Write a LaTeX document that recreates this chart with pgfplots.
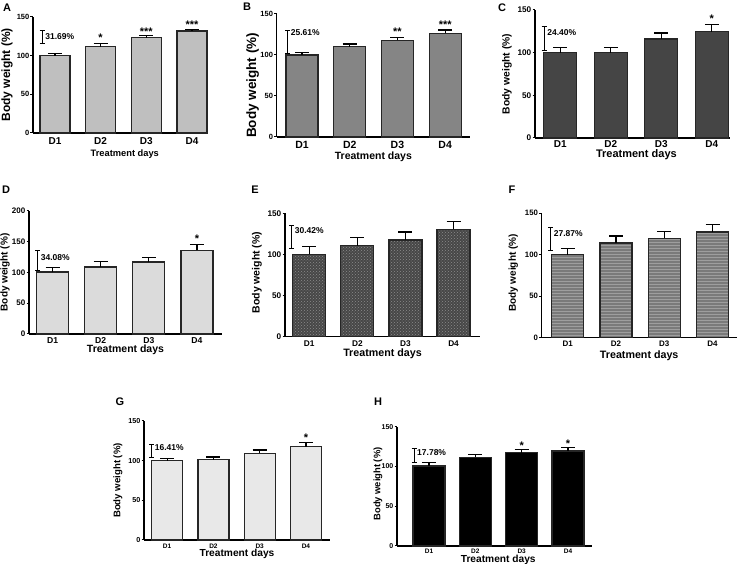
\documentclass[border=0pt]{standalone}
\usepackage{fontspec}
\setmainfont{Liberation Sans}
\usepackage{pgfplots}
\pgfplotsset{compat=1.18}
\usetikzlibrary{patterns}
\newcommand{\fs}[1]{\bfseries\fontsize{#1}{#1}\selectfont}
\newcommand{\brk}[5]{%
  \draw[line width=1pt] (axis cs:#1,#2) -- (axis cs:#1,#3);
  \draw[line width=1pt] ([xshift=-2.5pt]axis cs:#1,#2) -- ([xshift=2.5pt]axis cs:#1,#2);
  \draw[line width=1pt] ([xshift=-2.5pt]axis cs:#1,#3) -- ([xshift=2.5pt]axis cs:#1,#3);
  \node[anchor=west, font=\fs{8.5}, inner sep=0pt, xshift=3pt] at (axis cs:#1,#5) {#4};}
\newcommand{\stars}[3]{\node[font=\fs{11}, anchor=base, inner sep=0pt, yshift=-6pt] at (axis cs:#1,#2) {#3};}
\pgfplotsset{
 panel/.style={
  scale only axis, ybar, bar width=32pt,
  axis x line*=bottom, axis y line*=left,
  ymin=0, ymax=150, ytick={0,50,100,150},
  xtick={1,2,3,4}, xticklabels={D1,D2,D3,D4},
  xtick style={draw=none},
  tick align=outside, major tick length=2.5pt,
  ytick style={line width=1pt,black},
  axis line style={line width=1.3pt, black},
  /pgf/number format/assume math mode=true,
  yticklabel style={font=\fs{7.5}, inner sep=1pt},
  xticklabel style={inner sep=1.5pt},
  clip=false,
  ylabel={Body weight (\%)}, xlabel={Treatment days},
 },
 bars/.style={draw=black!85, line width=1.2pt,
  error bars/.cd, y dir=plus, y explicit, error mark=|,
  error bar style={line width=1.2pt, black},
  error mark options={line width=1.2pt, black, mark size=7pt}},
}
\begin{document}
\begin{tikzpicture}
\path[use as bounding box] (0,0) rectangle (738pt,564pt);
% panel labels
\node[font=\fs{11}] at (7pt,556pt) {A};
\node[font=\fs{11}] at (247pt,557pt) {B};
\node[font=\fs{11}] at (502pt,556.7pt) {C};
\node[font=\fs{11}] at (6pt,374pt) {D};
\node[font=\fs{11}] at (255pt,374pt) {E};
\node[font=\fs{11}] at (512pt,374pt) {F};
\node[font=\fs{11}] at (120pt,162.3pt) {G};
\node[font=\fs{11}] at (378pt,162.3pt) {H};

% A
\begin{axis}[panel, at={(33pt,431pt)}, anchor=south west, width=170pt, height=116pt,
  xmin=0.52, xmax=4.24, bar width=30pt,
  every axis y label/.style={at={(axis description cs:-0.153,0.5)}, rotate=90, anchor=center, font=\fs{12}},
  every axis x label/.style={at={(axis description cs:0.54,-0.18)}, anchor=center, font=\fs{9.3}},
  xticklabel style={font=\fs{10}}]
\addplot[fill=black!25, bars] coordinates {(1,100) +- (0,3) (2,111.4) +- (0,4) (3,123.4) +- (0,3) (4,132) +- (0,2)};
\brk{0.72}{116}{132}{31.69\%}{124.5}
\stars{2}{125.6}{*}\stars{3}{133.7}{***}\stars{4}{142.3}{***}
\end{axis}

% B
\begin{axis}[panel, at={(276.7pt,427pt)}, anchor=south west, width=193.3pt, height=123pt,
  xmin=0.47, xmax=4.52, bar width=32pt,
  every axis y label/.style={at={(axis description cs:-0.124,0.42)}, rotate=90, anchor=center, font=\fs{13.5}},
  every axis x label/.style={at={(axis description cs:0.5,-0.162)}, anchor=center, font=\fs{10.5}},
  xticklabel style={font=\fs{10.5}}]
\addplot[fill=black!48, bars] coordinates {(1,100) +- (0,2.7) (2,110) +- (0,3.3) (3,118) +- (0,3.5) (4,126.4) +- (0,4)};
\brk{0.70}{102}{130}{25.61\%}{126.8}
\stars{3}{131.3}{**}\stars{4}{139.4}{***}
\end{axis}

% C
\begin{axis}[panel, at={(535pt,426pt)}, anchor=south west, width=195pt, height=128pt,
  xmin=0.5, xmax=4.36, bar width=33pt,
  every axis y label/.style={at={(axis description cs:-0.144,0.5)}, rotate=90, anchor=center, font=\fs{10.3}},
  every axis x label/.style={at={(axis description cs:0.52,-0.128)}, anchor=center, font=\fs{11}},
  xticklabel style={font=\fs{10}, inner sep=0pt},
  yticklabel style={font=\fs{8.2}}]
\addplot[fill=black!73, bars] coordinates {(1,100) +- (0,6) (2,100) +- (0,6) (3,116) +- (0,7) (4,124.7) +- (0,8)};
\brk{0.68}{103}{130.5}{24.40\%}{124}
\stars{4}{142.2}{*}
\end{axis}

% D
\begin{axis}[panel, at={(29pt,230pt)}, anchor=south west, width=193pt, height=123.3pt,
  xmin=0.51, xmax=4.52, bar width=32pt, ymax=200, ytick={0,50,100,150,200},
  every axis y label/.style={at={(axis description cs:-0.124,0.5)}, rotate=90, anchor=center, font=\fs{10}},
  every axis x label/.style={at={(axis description cs:0.5,-0.132)}, anchor=center, font=\fs{10.5}},
  xticklabel style={font=\fs{8.6}, inner sep=1pt},
  yticklabel style={font=\fs{8}}]
\addplot[fill=black!14, bars] coordinates {(1,100.5) +- (0,8) (2,108.6) +- (0,9) (3,116.7) +- (0,8) (4,135.5) +- (0,9.5)};
\brk{0.69}{103.4}{134.7}{34.08\%}{124.5}
\stars{4}{158}{*}
\end{axis}

% E
\begin{axis}[panel, at={(285pt,227.3pt)}, anchor=south west, width=195pt, height=123.4pt,
  xmin=0.495, xmax=4.55, bar width=33pt,
  every axis y label/.style={at={(axis description cs:-0.144,0.52)}, rotate=90, anchor=center, font=\fs{10.5}},
  every axis x label/.style={at={(axis description cs:0.5,-0.14)}, anchor=center, font=\fs{10.7}},
  xticklabel style={font=\fs{8.3}, inner sep=1pt},
  yticklabel style={font=\fs{8.2}}]
\addplot[fill=black!72, postaction={pattern=crosshatch dots, pattern color=black!45}, bars] coordinates {(1,100) +- (0,9.5) (2,110.7) +- (0,10) (3,117.6) +- (0,9.7) (4,130.5) +- (0,9.5)};
\brk{0.634}{107.4}{135}{30.42\%}{128.5}
\end{axis}

% F
\begin{axis}[panel, at={(541.7pt,226.3pt)}, anchor=south west, width=195pt, height=124.4pt,
  xmin=0.46, xmax=4.5, bar width=32pt,
  every axis y label/.style={at={(axis description cs:-0.146,0.52)}, rotate=90, anchor=center, font=\fs{10}},
  every axis x label/.style={at={(axis description cs:0.5,-0.147)}, anchor=center, font=\fs{10.7}},
  xticklabel style={font=\fs{8}, inner sep=1pt},
  yticklabel style={font=\fs{7.8}}]
\addplot[fill=black!52, postaction={pattern=horizontal lines, pattern color=black!38}, bars] coordinates {(1,100) +- (0,8) (2,114.2) +- (0,8.4) (3,119.8) +- (0,8) (4,127.5) +- (0,9)};
\brk{0.647}{105}{133}{27.87\%}{126}
\end{axis}

% G
\begin{axis}[panel, at={(144pt,24pt)}, anchor=south west, width=186pt, height=119pt,
  xmin=0.5, xmax=4.52, bar width=31pt,
  every axis y label/.style={at={(axis description cs:-0.14,0.5)}, rotate=90, anchor=center, font=\fs{9.6}},
  every axis x label/.style={at={(axis description cs:0.5,-0.118)}, anchor=center, font=\fs{10.2}},
  xticklabel style={font=\fs{6.5}, inner sep=1pt},
  yticklabel style={font=\fs{7.2}}]
\addplot[fill=black!9, bars] coordinates {(1,100) +- (0,3.2) (2,101.2) +- (0,3.3) (3,109.2) +- (0,4.2) (4,117.6) +- (0,5)};
\brk{0.666}{104.2}{121}{16.41\%}{116.8}
\stars{4}{131.5}{*}
\end{axis}

% H
\begin{axis}[panel, at={(397pt,18pt)}, anchor=south west, width=194.7pt, height=119.3pt,
  xmin=0.31, xmax=4.51, bar width=32pt,
  every axis y label/.style={at={(axis description cs:-0.098,0.52)}, rotate=90, anchor=center, font=\fs{9.4}},
  every axis x label/.style={at={(axis description cs:0.52,-0.12)}, anchor=center, font=\fs{10.2}},
  xticklabel style={font=\fs{6.5}, inner sep=0.5pt},
  yticklabel style={font=\fs{7}}]
\addplot[fill=black, bars] coordinates {(1,100.5) +- (0,4) (2,111.4) +- (0,3.8) (3,117.3) +- (0,4.2) (4,119.4) +- (0,4.2)};
\brk{0.677}{104.7}{123}{17.78\%}{117.7}
\stars{3}{129}{*}\stars{4}{132}{*}
\end{axis}
\end{tikzpicture}
\end{document}
